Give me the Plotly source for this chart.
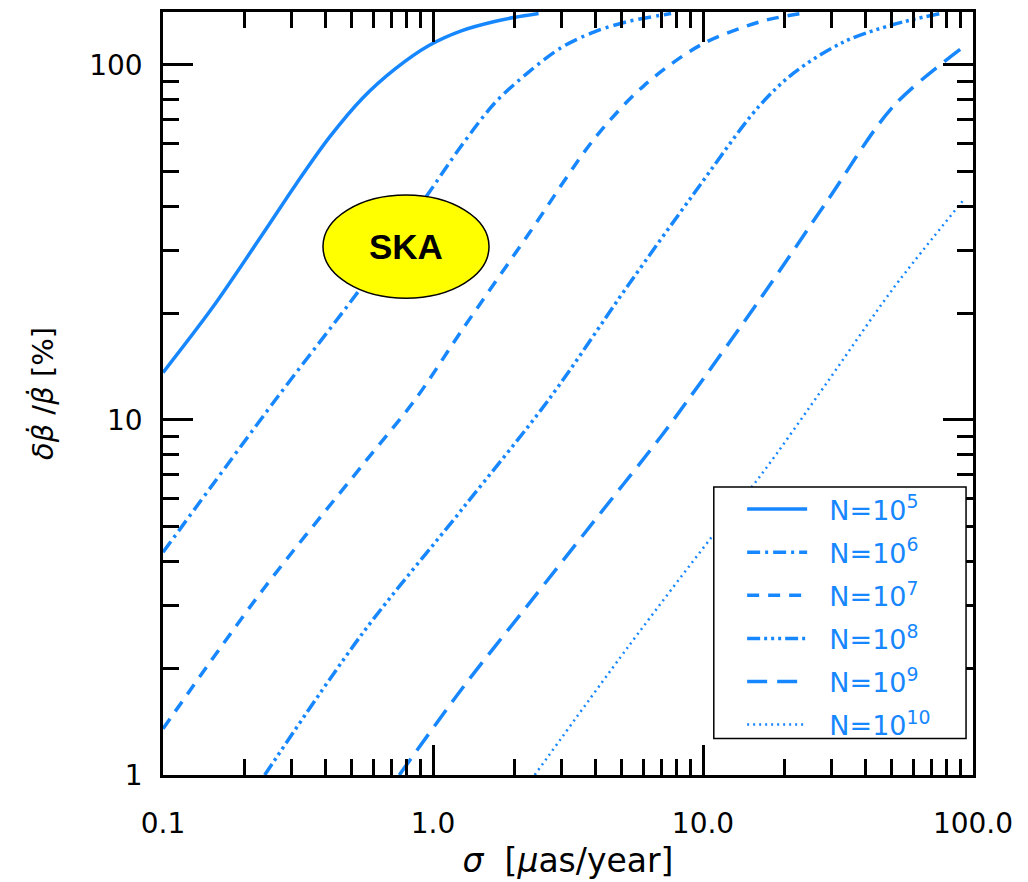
import math
import plotly.graph_objects as go

# Relative error on the secular aberration drift versus astrometric precision,
# for different numbers of sources N.
sigma_n5 = [0.1, 0.153, 0.234, 0.31, 0.413, 0.547, 0.724, 0.966, 1.28, 1.69, 2.01, 2.46]
err_n5 = [13.6, 20.8, 33.4, 46.0, 62.5, 80.5, 97.5, 113.5, 125.0, 132.6, 136.2, 139.6]

sigma_n6 = [0.1, 0.261, 0.533, 0.934, 1.28, 1.69, 2.26, 2.99, 3.96, 5.29, 7.62]
err_n6 = [4.24, 11.4, 23.2, 42.1, 59.5, 78.0, 95.5, 112.0, 124.0, 132.6, 139.6]

sigma_n7 = [0.1, 0.234, 0.547, 0.858, 1.28, 2.26, 3.96, 6.05, 9.84, 16.4, 23.0]
err_n7 = [1.35, 3.32, 7.45, 11.4, 17.9, 33.4, 62.0, 87.5, 114.0, 132.6, 139.6]

sigma_n8 = [0.238, 0.547, 1.28, 2.68, 5.29, 9.27, 16.0, 21.7, 33.1, 50.7, 75.5]
err_n8 = [1.0, 2.5, 5.6, 11.4, 24.0, 43.5, 76.0, 95.0, 116.0, 130.0, 139.6]

sigma_n9 = [0.75, 1.28, 2.26, 3.96, 7.0, 8.81, 16.4, 28.9, 50.7, 93.0]
err_n9 = [1.0, 1.75, 3.03, 5.2, 9.0, 11.4, 22.1, 41.5, 76.5, 113.0]

sigma_n10 = [2.38, 5.29, 10.7, 16.4, 28.9, 50.7, 93.3]
err_n10 = [1.0, 2.3, 4.65, 7.0, 12.8, 23.5, 42.1]

series_names = ["N=10<sup>5</sup>", "N=10<sup>6</sup>", "N=10<sup>7</sup>",
                "N=10<sup>8</sup>", "N=10<sup>9</sup>", "N=10<sup>10</sup>"]

x_tickvals = [0.1, 1.0, 10.0, 100.0]
x_ticktext = ["0.1", "1.0", "10.0", "100.0"]
y_tickvals = [1, 10, 100]
y_ticktext = ["1", "10", "100"]

BLUE = "#1787FF"
FONT = "DejaVu Sans"

styles = [
    dict(dash="solid", width=3.5),
    dict(dash="13px,5px,3px,5px", width=3.5),
    dict(dash="12px,9px", width=3.5),
    dict(dash="13px,4px,3px,4px,3px,4px,3px,4px", width=3.5),
    dict(dash="20px,10px", width=3.5),
    dict(dash="2px,4px", width=2.5),
]

data = [(sigma_n5, err_n5), (sigma_n6, err_n6), (sigma_n7, err_n7),
        (sigma_n8, err_n8), (sigma_n9, err_n9), (sigma_n10, err_n10)]

fig = go.Figure()
for i, ((xs, ys), name, st) in enumerate(zip(data, series_names, styles)):
    fig.add_trace(go.Scatter(
        x=xs, y=ys, mode="lines", name="\u00a0\u00a0" + name, legendgroup=f"g{i}",
        line=dict(color=BLUE, width=st["width"], dash=st["dash"], shape="spline", smoothing=0.9),
    ))

minor_x = [m * 10 ** e for e in (-1, 0, 1) for m in range(2, 10)]
minor_y = [m * 10 ** e for e in (0, 1) for m in range(2, 10)]

axis_common = dict(
    type="log", showline=True, linecolor="black", linewidth=2.5, mirror="allticks",
    ticks="inside", ticklen=30, tickwidth=2.5, tickcolor="black",
    showgrid=False, zeroline=False,
    tickfont=dict(family=FONT, size=28, color="black"),
)

fig.update_xaxes(
    **axis_common, range=[-1, 2], tickmode="array", tickvals=x_tickvals, ticktext=x_ticktext,
    minor=dict(ticks="inside", ticklen=16, tickwidth=2.5, tickcolor="black", tickvals=minor_x, showgrid=False),
    ticklabelstandoff=22,
    title=dict(text="<i>σ</i>  [<i>μ</i>as/year]", font=dict(family=FONT, size=33, color="black"), standoff=10),
)
fig.update_yaxes(
    **axis_common, range=[0, math.log10(141)], tickmode="array", tickvals=y_tickvals, ticktext=y_ticktext,
    minor=dict(ticks="inside", ticklen=16, tickwidth=2.5, tickcolor="black", tickvals=minor_y, showgrid=False),
    ticklabelstandoff=12,
    title=dict(text="<i>δβ̇</i> /<i>β̇</i> [%]", font=dict(family=FONT, size=29, color="black"), standoff=28),
)

# SKA region marker
fig.add_shape(type="circle", xref="paper", yref="paper",
              x0=0.1975, x1=0.4025, y0=0.625, y1=0.760,
              fillcolor="#FFFF00", line=dict(color="black", width=1.5), layer="above")
fig.add_annotation(text="<b>SKA</b>", xref="paper", yref="paper", x=0.300, y=0.6926,
                   xanchor="center", yanchor="middle",
                   showarrow=False, font=dict(family="Liberation Sans", size=35, color="black"))

# Legend frame: white panel over the curves, legend entries drawn on top
fig.add_shape(type="rect", xref="paper", yref="paper",
              x0=0.680, x1=0.9914, y0=0.048, y1=0.3774,
              fillcolor="white", line=dict(color="black", width=1.5), layer="above")

fig.update_layout(
    width=1028, height=882,
    margin=dict(l=163, r=55, t=9, b=102),
    paper_bgcolor="white", plot_bgcolor="white",
    showlegend=True,
    legend=dict(
        x=0.715, y=0.380, xanchor="left", yanchor="top",
        bgcolor="rgba(0,0,0,0)", borderwidth=0,
        font=dict(family=FONT, size=27, color=BLUE),
        tracegroupgap=5, itemwidth=60, traceorder="grouped",
    ),
)

fig.write_html("out.html")
